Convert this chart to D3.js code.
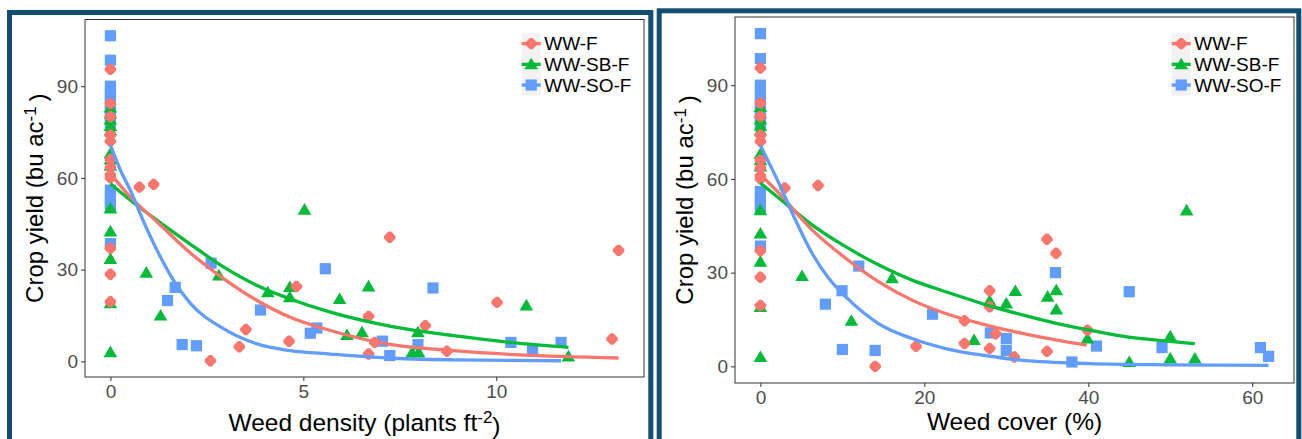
<!DOCTYPE html>
<html><head><meta charset="utf-8">
<script src="https://cdn.jsdelivr.net/npm/d3@7"></script>
<style>body{margin:0;background:#fff;} svg{display:block;font-family:"Liberation Sans",Arial,sans-serif;}</style>
</head><body><svg id="c" width="1302" height="439"></svg>
<script>
// ---------------- DATA ----------------
const seriesNames = ["WW-F", "WW-SB-F", "WW-SO-F"];
const yTicks = [0, 30, 60, 90];
const densityTicks = [0, 5, 10];
const coverTicks = [0, 20, 40, 60];

// weed-free plots (x = 0) crop yields
const zeroF  = [95.5, 84.3, 80, 74, 72, 66, 63.5, 61, 60, 37, 28.5, 19.5];
const zeroSB = [83, 81, 79, 77, 75.5, 68, 66, 64, 50, 42.5, 33.5, 19, 3];
const zeroSO = [106.5, 98.5, 90, 88, 86, 84, 82, 80, 78, 56, 54, 52, 50.5, 38.5];

// weedy plots: weed density (plants ft-2) vs yield
const densF_x  = [0.75, 1.12, 2.59, 3.34, 3.51, 4.63, 4.82, 6.69, 6.85, 6.69, 7.24, 8.16, 8.72, 10.02, 13.0, 13.17];
const densF_y  = [57.0, 57.9, 0.2, 4.8, 10.4, 6.6, 24.5, 14.7, 6.2, 2.4, 40.6, 11.7, 3.3, 19.3, 7.3, 36.3];
const densSB_x = [0.93, 1.3, 2.81, 4.08, 4.65, 4.65, 5.03, 5.94, 6.13, 6.52, 6.69, 7.82, 7.99, 7.97, 10.78, 11.87];
const densSB_y = [29.0, 15.0, 28.1, 22.6, 24.3, 21.0, 49.6, 20.4, 8.6, 9.5, 24.5, 2.9, 2.9, 9.5, 18.3, 1.6];
const densSO_x = [1.48, 1.68, 1.86, 2.23, 2.61, 3.89, 5.18, 5.35, 5.57, 7.05, 7.24, 7.97, 8.36, 10.38, 10.94, 11.68];
const densSO_y = [19.9, 24.2, 5.5, 5.1, 32.1, 16.8, 9.2, 10.9, 30.3, 6.6, 1.9, 5.5, 24.0, 6.2, 3.8, 6.2];

// weedy plots: weed cover (%) vs yield
const covF_x  = [2.97, 7.03, 14.0, 18.99, 24.9, 24.9, 27.97, 27.97, 27.97, 28.7, 30.98, 34.96, 36.06, 34.96, 39.9];
const covF_y  = [57.1, 57.9, 0.0, 6.4, 14.6, 7.3, 24.2, 19.1, 5.7, 10.4, 3.0, 40.7, 36.2, 4.8, 11.6];
const covSB_x = [5.08, 11.1, 16.06, 26.06, 27.97, 30.0, 31.1, 35.04, 36.1, 36.1, 39.9, 45.0, 50.0, 50.0, 52.0, 53.0];
const covSB_y = [28.9, 14.6, 28.2, 8.4, 21.0, 20.1, 24.1, 22.3, 24.4, 18.2, 8.9, 1.4, 9.6, 2.5, 49.9, 2.5];
const covSO_x = [7.93, 9.96, 10.0, 12.0, 14.0, 21.0, 28.05, 30.0, 30.0, 36.0, 38.0, 41.0, 45.0, 49.0, 61.0, 62.0];
const covSO_y = [19.9, 24.2, 5.4, 32.1, 5.1, 16.7, 10.7, 8.9, 5.1, 30.0, 1.4, 6.5, 23.9, 6.0, 6.0, 3.2];

// fitted curves
const fitDensF_x  = [0, 0.52, 1.21, 2.05, 2.94, 3.8, 4.66, 5.7, 7.17, 8.9, 10.62, 13.17];
const fitDensF_y  = [61.4, 53.7, 45.6, 35.7, 27.0, 19.9, 14.4, 10.1, 5.7, 3.5, 2.1, 1.1];
const fitDensSB_x = [0, 0.52, 1.21, 2.05, 2.94, 3.8, 4.66, 5.7, 7.17, 8.9, 10.62, 11.87];
const fitDensSB_y = [58.1, 52.7, 46.1, 38.5, 30.8, 24.8, 20.4, 16.1, 11.7, 8.4, 5.9, 4.6];
const fitDensSO_x = [0, 0.26, 0.52, 0.85, 1.21, 1.64, 2.05, 2.94, 3.8, 4.66, 5.7, 7.17, 8.9, 11.68];
const fitDensSO_y = [70.7, 62.5, 55.9, 46.0, 36.3, 26.4, 19.3, 10.6, 5.7, 3.5, 2.4, 1.1, 0.5, 0.2];

const fitCovF_x  = [0, 2.24, 6.3, 10.4, 14.4, 18.5, 22.6, 28.05, 32.1, 36.2, 39.8];
const fitCovF_y  = [61.4, 55.5, 43.7, 34.6, 27.1, 21.2, 16.9, 12.9, 10.5, 8.4, 6.8];
const fitCovSB_x = [0, 2.24, 6.3, 10.4, 14.4, 18.5, 22.6, 28.05, 32.1, 36.2, 40.2, 44.3, 48.4, 53.0];
const fitCovSB_y = [58.7, 53.9, 45.3, 38.3, 32.5, 27.6, 23.9, 19.3, 16.4, 13.7, 11.6, 9.6, 8.4, 7.3];
const fitCovSO_x = [0, 2.24, 4.27, 6.3, 8.33, 10.4, 14.4, 18.5, 22.6, 28.7, 32.1, 40.2, 50, 62];
const fitCovSO_y = [70.7, 58.7, 46.9, 36.2, 28.2, 22.3, 13.7, 8.9, 5.7, 3.0, 1.9, 0.9, 0.5, 0.3];

// ---------------- STYLE ----------------
const colors = ["#F8766D", "#00BA38", "#619CFF"];
const frameColor = "#124e6f";

const svg = d3.select("#c");

function shapePath(i) {
  if (i === 0) { const a = 5.7, b = 1.3;
    return `M${b},${-a}L${a},${-b}L${a},${b}L${b},${a}L${-b},${a}L${-a},${b}L${-a},${-b}L${-b},${-a}Z`; }
  if (i === 1) return "M0,-6.6L6.8,5L-6.8,5Z";
  return "M-5.6,-5.6H5.6V5.6H-5.6Z";
}

function zip(xs, ys) { return xs.map((x, i) => [x, ys[i]]); }

function drawPanel(cfg) {
  const g = svg.append("g");
  g.append("rect").attr("x", cfg.frame[0]).attr("y", cfg.frame[1])
    .attr("width", cfg.frame[2]).attr("height", cfg.frame[3])
    .attr("fill", "none").attr("stroke", frameColor).attr("stroke-width", 5);

  const [L, T, R, B] = cfg.plot;
  const allX = cfg.points.flatMap(p => p.map(d => d[0]));
  const allY = cfg.points.flatMap(p => p.map(d => d[1]));
  const xe = d3.extent(allX), ye = d3.extent(allY);
  const xp = (xe[1] - xe[0]) * 0.05, yp = (ye[1] - ye[0]) * 0.05;
  const x = d3.scaleLinear().domain([xe[0] - xp, xe[1] + xp]).range([L, R]);
  const y = d3.scaleLinear().domain([ye[0] - yp, ye[1] + yp]).range([B, T]);

  [2, 1, 0].forEach(si => {
    g.append("g").selectAll("path").data(cfg.points[si]).join("path")
      .attr("d", shapePath(si))
      .attr("transform", d => `translate(${x(d[0])},${y(d[1])})`)
      .attr("fill", colors[si]);
  });
  const line = d3.line().x(d => x(d[0])).y(d => y(d[1])).curve(d3.curveMonotoneX);
  [1, 0, 2].forEach(si => {
    g.append("path").datum(cfg.fits[si]).attr("d", line)
      .attr("fill", "none").attr("stroke", colors[si]).attr("stroke-width", 3.3)
      .attr("stroke-linejoin", "round").attr("stroke-linecap", "butt");
  });

  g.append("rect").attr("x", L).attr("y", T).attr("width", R - L).attr("height", B - T)
    .attr("fill", "none").attr("stroke", "#333").attr("stroke-width", 1);

  const ax = g.append("g").attr("transform", `translate(0,${B})`)
    .call(d3.axisBottom(x).tickValues(cfg.xTicks).tickSize(4).tickPadding(4).tickFormat(d3.format("d")));
  const ay = g.append("g").attr("transform", `translate(${L},0)`)
    .call(d3.axisLeft(y).tickValues(yTicks).tickSize(4).tickPadding(3).tickFormat(d3.format("d")));
  [ax, ay].forEach(a => {
    a.select(".domain").remove();
    a.selectAll(".tick line").attr("stroke", "#333");
    a.selectAll(".tick text").attr("fill", "#4d4d4d").style("font-size", "19px")
      .style("font-family", '"Liberation Sans", Arial, sans-serif');
  });

  const xt = g.append("text").attr("x", (L + R) / 2).attr("y", cfg.xTitleY)
    .attr("text-anchor", "middle").style("font-size", "24.5px").attr("fill", "#000");
  xt.append("tspan").text(cfg.xTitle[0]);
  if (cfg.xTitle[1]) {
    xt.append("tspan").text(cfg.xTitle[1]).attr("dy", "-0.45em").style("font-size", "17px");
    xt.append("tspan").text(cfg.xTitle[2]).attr("dy", "0.45em").style("font-size", "24.5px");
  }
  const yt = g.append("text").attr("transform", `translate(${cfg.yTitleX},${(T + B) / 2}) rotate(-90)`)
    .attr("text-anchor", "middle").style("font-size", "24px").attr("fill", "#000");
  yt.append("tspan").text("Crop yield (bu ac");
  yt.append("tspan").text("-1").attr("dy", "-0.45em").style("font-size", "17px");
  yt.append("tspan").text("\u2009)").attr("dy", "0.45em").style("font-size", "24px");

  const lg = g.append("g").attr("transform", `translate(${cfg.legend[0]},${cfg.legend[1]})`);
  const kw = 19, kh = 20.7;
  seriesNames.forEach((name, i) => {
    const row = lg.append("g").attr("transform", `translate(0,${i * kh})`);
    row.append("rect").attr("width", kw).attr("height", kh).attr("fill", "#f2f2f2");
    row.append("line").attr("x1", 0).attr("x2", kw).attr("y1", kh / 2).attr("y2", kh / 2)
      .attr("stroke", colors[i]).attr("stroke-width", 3.3);
    row.append("path").attr("d", shapePath(i)).attr("transform", `translate(${kw / 2},${kh / 2})`)
      .attr("fill", colors[i]);
    row.append("text").attr("x", kw + 3.5).attr("y", kh / 2).attr("dy", "0.36em")
      .style("font-size", "19px").attr("fill", "#000").text(name);
  });
}

const zF = zeroF.map(v => [0, v]), zSB = zeroSB.map(v => [0, v]), zSO = zeroSO.map(v => [0, v]);

drawPanel({
  frame: [9.5, 12.5, 641.3, 440],
  plot: [85, 19.5, 644, 377],
  points: [zF.concat(zip(densF_x, densF_y)), zSB.concat(zip(densSB_x, densSB_y)), zSO.concat(zip(densSO_x, densSO_y))],
  fits: [zip(fitDensF_x, fitDensF_y), zip(fitDensSB_x, fitDensSB_y), zip(fitDensSO_x, fitDensSO_y)],
  xTicks: densityTicks,
  xTitle: ["Weed density (plants ft", "-2", ")"],
  xTitleY: 431,
  yTitleX: 43.3,
  legend: [521.7, 33.3]
});

drawPanel({
  frame: [659.2, 10.8, 639.6, 440],
  plot: [735, 17, 1294, 383],
  points: [zF.concat(zip(covF_x, covF_y)), zSB.concat(zip(covSB_x, covSB_y)), zSO.concat(zip(covSO_x, covSO_y))],
  fits: [zip(fitCovF_x, fitCovF_y), zip(fitCovSB_x, fitCovSB_y), zip(fitCovSO_x, fitCovSO_y)],
  xTicks: coverTicks,
  xTitle: ["Weed cover (%)"],
  xTitleY: 430,
  yTitleX: 693.3,
  legend: [1171.7, 33.3]
});
</script></body></html>
